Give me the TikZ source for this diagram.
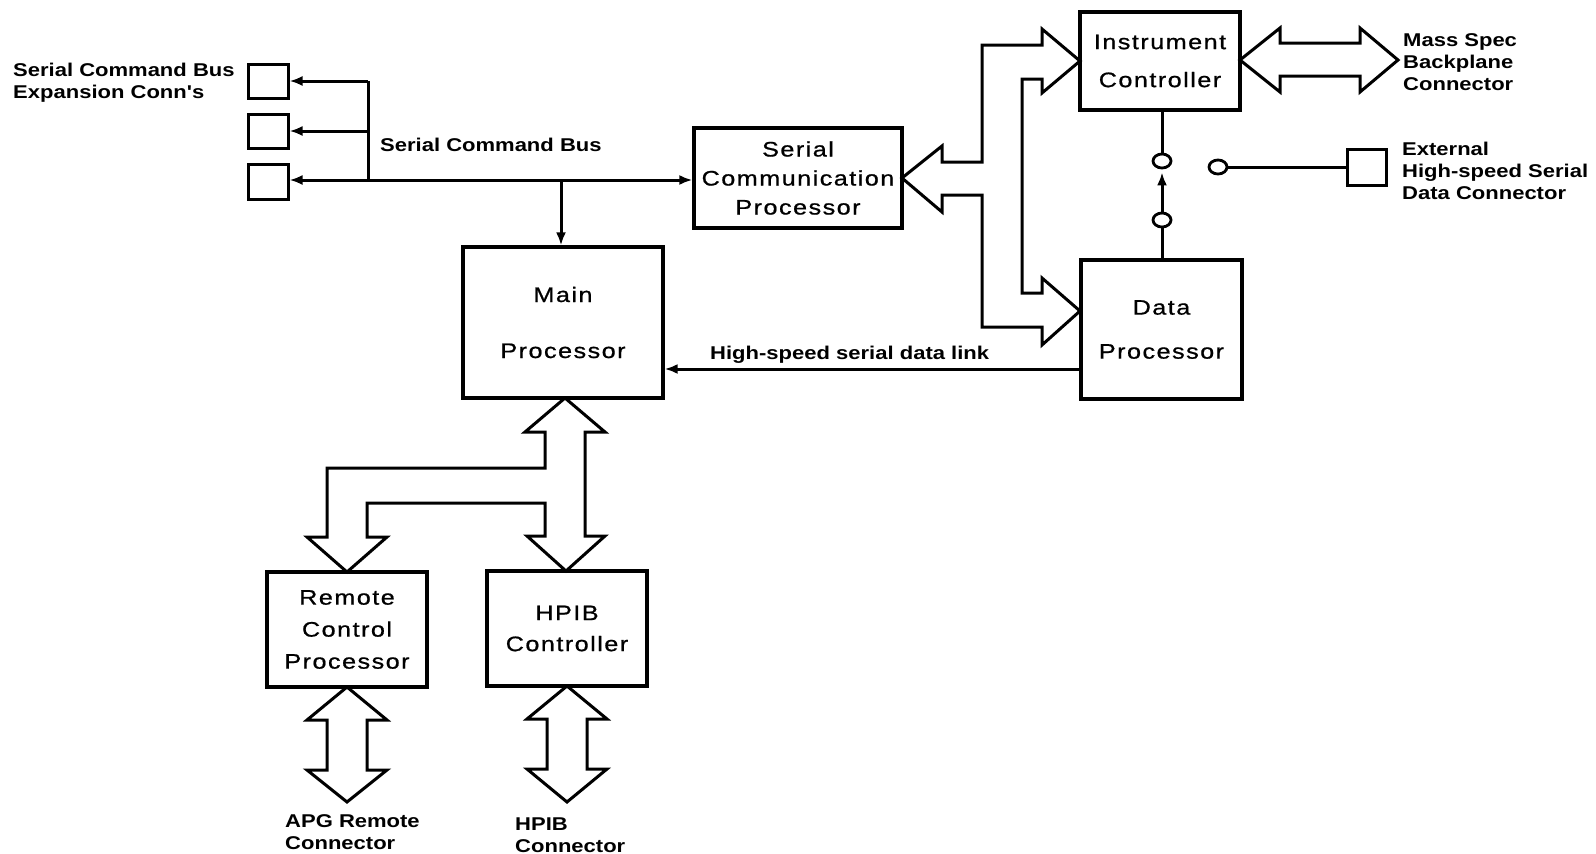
\documentclass[tikz,border=0pt]{standalone}
\usepackage{fontspec}
\setmainfont{Liberation Sans}
\newfontfamily\lblfont{Liberation Sans}[FakeStretch=1.19]
\newfontfamily\boxfont{Liberation Sans}[FakeStretch=1.2,LetterSpace=7,FakeBold=0.8]
\usetikzlibrary{arrows.meta,shapes.geometric}
\begin{document}
\begin{tikzpicture}[x=1pt,y=-1pt,
  blk/.style={draw, line width=3.2pt, inner sep=1pt, align=center,
    font=\boxfont\fontsize{21}{#1}\selectfont},
  conn/.style={draw, line width=3pt, minimum width=40pt, minimum height=34pt, inner sep=0pt},
  lbl/.style={font=\lblfont\bfseries\fontsize{18.5}{22}\selectfont, align=left, anchor=west, inner sep=0pt},
  wire/.style={line width=3pt},
  tipa/.style={-{Latex[length=13pt,width=10pt]}},
  fat/.style={line width=3pt, line join=miter},
  ring/.style={draw, ellipse, line width=2.8pt, minimum width=18pt, minimum height=14pt, inner sep=0pt}]
\useasboundingbox (0,0) rectangle (1596,854);

% blocks
\node[blk=38, minimum width=160pt, minimum height=98pt] (ic) at (1160,61) {Instrument\\Controller};
\node[blk=29, minimum width=208pt, minimum height=100pt] (scp) at (798,178) {Serial\\Communication\\Processor};
\node[blk=56, minimum width=200pt, minimum height=151pt] (mp) at (563,322.5) {Main\\Processor};
\node[blk=44, minimum width=161pt, minimum height=139pt] (dp) at (1161.5,329.5) {Data\\Processor};
\node[blk=32, minimum width=160pt, minimum height=115pt] (rcp) at (347,629.5) {Remote\\Control\\Processor};
\node[blk=31, minimum width=160pt, minimum height=115pt] (hpib) at (567,628.5) {HPIB\\Controller};

% expansion connectors
\node[conn] (e1) at (268,81) {};
\node[conn] (e2) at (268,131) {};
\node[conn, minimum height=35pt] (e3) at (268,181.5) {};
\coordinate (b1) at (368,81);
\coordinate (b2) at (368,131);
\coordinate (b3) at (368,180);
\coordinate (bd) at (561,180);
\draw[wire] (b1) -- (b3);
\draw[wire,tipa] (b1) -- (e1.east);
\draw[wire,tipa] (b2) -- (e2.east);
\draw[wire,tipa] (b3) -- (e3.east |- b3);
\draw[wire,tipa] (b3) -- (scp.west |- b3);
\draw[wire,tipa] (bd) -- (mp.north -| bd);

% high-speed serial data link
\coordinate (hs) at (1081,369);
\draw[wire,tipa] (hs) -- (mp.east |- hs);

% instrument controller / data processor link
\node[ring] (c1) at (1162,161) {};
\node[ring] (c2) at (1162,220) {};
\draw[wire] (ic.south -| c1) -- (c1);
\draw[wire] (dp.north -| c2) -- (c2);
\draw[wire,tipa,shorten >=3pt] (c2) -- (c1);

% external high-speed serial data connector
\node[ring] (c3) at (1218,167) {};
\node[conn, minimum width=39pt, minimum height=36pt] (xc) at (1366.5,167) {};
\draw[wire] (c3) -- (xc);

% fat bus: SCP to IC and DP
\draw[fat] (902,178) -- (942,146) -- (942,162) -- (982,162) -- (982,45) -- (1042,45)
  -- (1042,29) -- (1080,61) -- (1042,93) -- (1042,79) -- (1022,79) -- (1022,293)
  -- (1042,293) -- (1042,278) -- (1080,311) -- (1042,345) -- (1042,327) -- (982,327)
  -- (982,195) -- (942,195) -- (942,212) -- cycle;

% fat bus: IC to Mass Spec backplane
\draw[fat] (1240,60) -- (1280,28) -- (1280,43) -- (1360,43) -- (1360,28) -- (1398,60)
  -- (1360,92) -- (1360,76) -- (1280,76) -- (1280,92) -- cycle;

% fat bus: Main to RCP and HPIB
\draw[fat] (565,398) -- (605,432) -- (585,432) -- (585,536) -- (605,536) -- (566,571)
  -- (527,536) -- (545,536) -- (545,503) -- (367,503) -- (367,537) -- (387,537)
  -- (347,572) -- (307,537) -- (327,537) -- (327,468) -- (545,468) -- (545,432)
  -- (525,432) -- cycle;

% fat bus: RCP to APG remote connector
\draw[fat] (347,687) -- (387,720) -- (367,720) -- (367,770) -- (387,770) -- (347,802)
  -- (307,770) -- (327,770) -- (327,720) -- (307,720) -- cycle;

% fat bus: HPIB to HPIB connector
\draw[fat] (567,686) -- (607,719) -- (587,719) -- (587,769) -- (607,769) -- (567,802)
  -- (527,769) -- (547,769) -- (547,719) -- (527,719) -- cycle;

% labels
\node[lbl] (t1) at (13,82.5) {Serial Command Bus\\Expansion Conn's};
\node[lbl] (t2) at (380,145) {Serial Command Bus};
\node[lbl] (t3) at (710,355) {High-speed serial data link};
\node[lbl] (t4) at (1403,62) {Mass Spec\\Backplane\\Connector};
\node[lbl] (t5) at (1402,171) {External\\High-speed Serial\\Data Connector};
\node[lbl] (t6) at (285,832) {APG Remote\\Connector};
\node[lbl] (t7) at (515,835) {HPIB\\Connector};
\end{tikzpicture}
\end{document}
